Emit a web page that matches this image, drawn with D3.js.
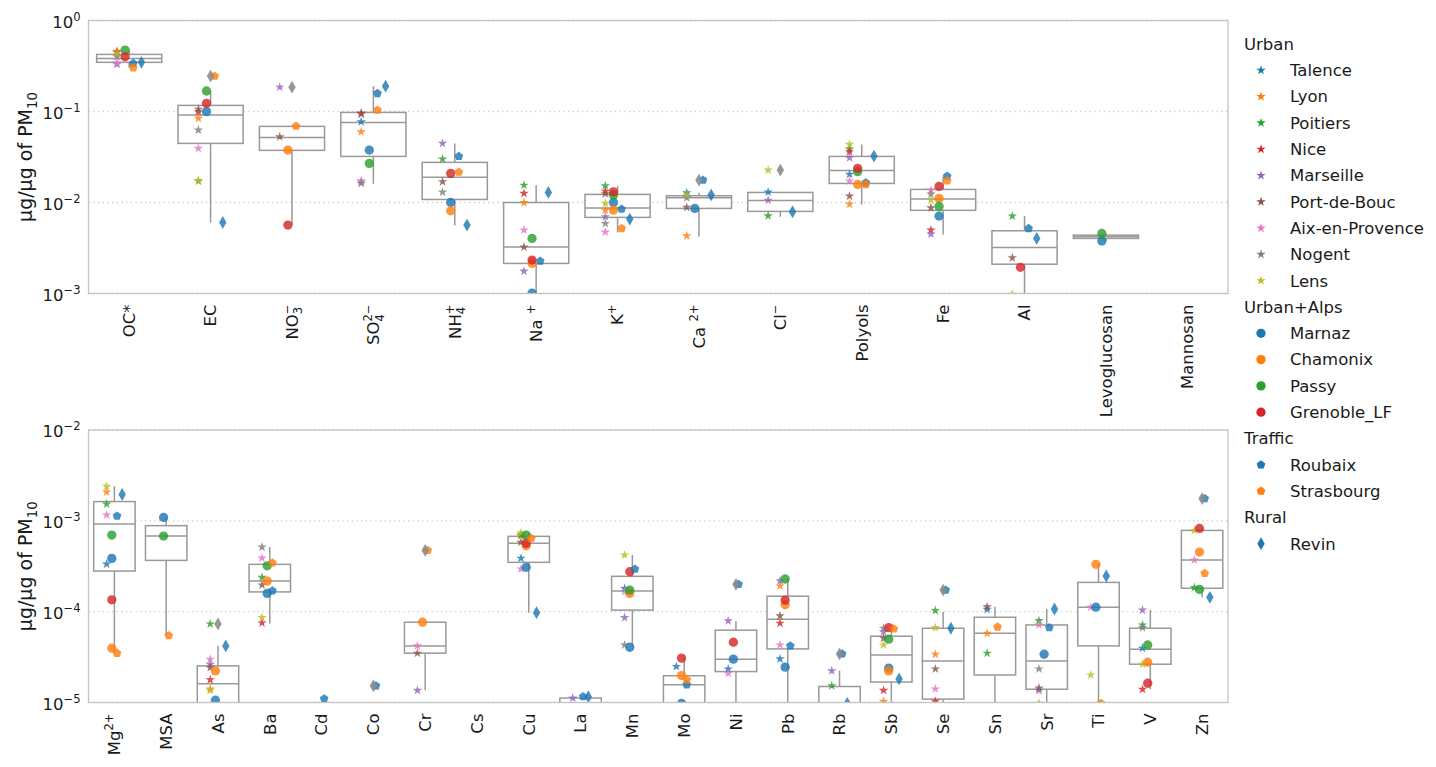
<!DOCTYPE html>
<html>
<head>
<meta charset="utf-8">
<script src="https://cdn.jsdelivr.net/npm/d3@7"></script>
<style>
  body { margin: 0; background: #fff; }
  text { font-family: "DejaVu Sans", sans-serif; fill: #1a1a1a; }
</style>
</head>
<body>
<svg id="chart" width="1436" height="767"></svg>
<script>
// ---- categories (tick labels, _ = subscript, ^ = superscript) ----
const majorSpecies = ['OC*', 'EC', 'NO_3^-', 'SO_4^{2-}', 'NH_4^+', 'Na ^+', 'K^+', 'Ca ^{2+}', 'Cl^-',
  'Polyols', 'Fe', 'Al', 'Levoglucosan', 'Mannosan'];
const traceSpecies = ['Mg^{2+}', 'MSA', 'As', 'Ba', 'Cd', 'Co', 'Cr', 'Cs', 'Cu', 'La', 'Mn', 'Mo', 'Ni',
  'Pb', 'Rb', 'Sb', 'Se', 'Sn', 'Sr', 'Ti', 'V', 'Zn'];

// ---- station groups ----
const groupNames = ['Urban', 'Urban+Alps', 'Traffic', 'Rural'];
const urbanSites = ['Talence', 'Lyon', 'Poitiers', 'Nice', 'Marseille', 'Port-de-Bouc', 'Aix-en-Provence', 'Nogent', 'Lens'];
const alpsSites = ['Marnaz', 'Chamonix', 'Passy', 'Grenoble_LF'];
const trafficSites = ['Roubaix', 'Strasbourg'];
const ruralSites = ['Revin'];

// ---- station values, µg/µg of PM10 (major species) ----
const major_Talence = [null, null, null, 0.077, null, null, null, 0.0128, 0.0130, 0.0204, null, null, null, null];
const major_Lyon = [0.46, 0.084, null, 0.0598, null, 0.0100, 0.00825, 0.0043, null, 0.0096, null, null, null, null];
const major_Poitiers = [null, 0.0172, null, null, 0.030, 0.0155, 0.0153, null, 0.00714, 0.0386, null, 0.0071, null, null];
const major_Nice = [0.45, 0.099, null, 0.0936, null, 0.0126, 0.0133, null, null, 0.0361, 0.00497, null, null, null];
const major_Marseille = [0.33, null, 0.185, 0.0168, 0.0446, 0.00176, 0.00697, null, 0.0106, 0.031, 0.0045, null, null, null];
const major_PortDeBouc = [null, 0.106, 0.0527, 0.096, 0.0169, 0.00324, 0.0125, 0.00883, null, 0.01175, 0.00874, 0.00247, null, null];
const major_Aix = [0.34, 0.0393, null, 0.0173, null, 0.00498, 0.00473, null, null, 0.0172, 0.01369, null, null, null];
const major_Nogent = [0.40, 0.0625, null, 0.0162, 0.0130, null, 0.00589, 0.01127, null, null, 0.01237, null, null, null];
const major_Lens = [0.44, 0.0174, null, null, null, null, 0.0098, 0.0121, 0.0227, 0.0435, 0.01063, 0.00098, null, null];
const major_Marnaz = [null, 0.100, null, 0.0377, 0.0100, 0.00101, 0.0100, 0.00861, null, null, 0.0071, null, 0.00377, null];
const major_Chamonix = [null, null, 0.0377, null, 0.0081, 0.00214, 0.00825, null, null, 0.0158, 0.0111, null, null, null];
const major_Passy = [0.473, 0.168, null, 0.0269, null, 0.00403, 0.01206, null, null, 0.0218, 0.00906, null, 0.00457, null];
const major_Grenoble = [0.399, 0.123, 0.00565, null, 0.0209, 0.00233, 0.0131, null, null, 0.0237, 0.01503, 0.00194, null, null];
const major_Roubaix = [0.338, null, null, 0.158, 0.0321, 0.00227, 0.00846, 0.0176, null, 0.0165, 0.0195, 0.00519, null, null];
const major_Strasbourg = [0.302, 0.245, 0.069, 0.1036, 0.0216, null, 0.00519, null, null, 0.0158, 0.0173, null, null, null];
const major_Revin = [0.347, 0.00604, null, 0.190, 0.00565, 0.0129, 0.00657, 0.0121, 0.0079, 0.0324, null, 0.00403, null, null];

// ---- station values (trace species) ----
const trace_Talence = [0.000334, null, null, null, null, null, null, null, 0.000387, null, 0.00018, 0.0000249, 0.0000234, 0.0000302, null, null, null, 0.000106, null, null, 0.0000396, null];
const trace_Lyon = [0.00208, null, 0.0000141, null, null, null, null, null, 0.00068, null, null, null, null, 0.000192, null, 0.0000103, 0.000034, 0.0000579, null, null, null, null];
const trace_Poitiers = [0.00153, null, 0.0000733, 0.000239, null, null, null, null, 0.0007, null, null, null, null, null, 0.0000153, null, 0.000103, 0.0000349, 0.0000796, null, 0.0000714, 0.000184];
const trace_Nice = [null, null, 0.0000178, 0.0000751, null, null, null, null, null, null, null, null, null, 0.0000746, null, 0.0000136, 0.0000103, null, null, null, 0.000014, null];
const trace_Marseille = [null, null, 0.0000263, null, null, null, 0.0000136, null, null, 0.0000112, 0.0000859, null, 0.0000791, 0.000219, 0.0000223, 0.00006, null, null, 0.0000136, null, 0.000104, null];
const trace_PortDeBouc = [null, null, 0.0000243, 0.000197, null, null, 0.0000349, null, 0.00058, null, null, null, null, 0.0000898, null, 0.000051, 0.0000234, 0.000113, 0.0000144, null, null, null];
const trace_Aix = [0.00116, null, 0.0000299, 0.000389, null, null, 0.000042, null, 0.000295, null, 0.000166, null, 0.000021, 0.000043, null, null, 0.0000141, null, 0.0000714, 0.000112, null, 0.00037];
const trace_Nogent = [null, null, null, 0.000514, null, null, null, null, null, null, 0.000043, null, null, null, null, 0.0000657, null, null, 0.0000234, null, 0.0000667, null];
const trace_Lens = [0.0024, null, 0.0000136, 0.0000859, null, null, null, null, 0.000738, null, 0.00042, null, null, null, null, 0.000043, 0.0000667, null, 0.0000098, 0.0000201, 0.0000264, 0.000784];
const trace_Marnaz = [0.000386, 0.00109, 0.0000106, 0.000159, null, null, null, null, 0.000308, null, 0.0000406, 0.0000098, 0.00003, 0.0000245, null, 0.0000239, null, null, 0.000034, 0.000112, null, null];
const trace_Chamonix = [0.0000396, null, 0.0000223, 0.000217, null, null, 0.0000765, null, 0.000531, null, 0.000159, 0.0000198, null, 0.000119, null, 0.0000223, null, null, null, 0.000332, 0.0000278, 0.000453];
const trace_Passy = [0.000697, 0.00068, null, 0.00032, null, null, null, null, 0.000697, null, 0.000173, null, null, 0.000229, null, 0.0000498, null, null, null, null, 0.000043, 0.000176];
const trace_Grenoble = [0.000135, null, null, null, null, null, null, null, 0.000565, null, 0.000275, 0.0000308, 0.0000461, 0.000134, null, 0.0000667, null, null, null, null, 0.0000163, 0.000825];
const trace_Roubaix = [0.00113, null, null, 0.00017, 0.000011, 0.0000153, null, null, null, 0.0000116, 0.000294, 0.0000157, 0.0002, 0.000042, 0.0000343, null, 0.000173, null, 0.0000667, null, null, 0.00176];
const trace_Strasbourg = [0.0000349, 0.0000545, null, 0.000345, null, null, 0.000473, null, 0.000641, null, null, 0.0000178, null, null, null, 0.0000646, null, 0.0000679, null, 0.0000098, null, 0.000264];
const trace_Revin = [0.00195, null, 0.000042, null, null, null, null, null, 0.0000975, 0.0000116, null, null, null, null, 0.0000098, 0.0000182, 0.0000657, null, 0.000107, 0.000247, null, 0.000144];

// ---- box statistics: [low whisker, Q1, median, Q3, high whisker] ----
const majorBoxes = [
  [0.302, 0.347, 0.383, 0.424, 0.473],
  [0.00604, 0.0446, 0.0913, 0.1167, 0.168],
  [0.00565, 0.0374, 0.0519, 0.0686, 0.0686],
  [0.01605, 0.0321, 0.0759, 0.0977, 0.190],
  [0.00558, 0.0108, 0.0189, 0.0276, 0.0446],
  [0.00095, 0.00214, 0.00324, 0.0100, 0.0155],
  [0.00469, 0.00686, 0.00868, 0.01228, 0.01515],
  [0.0042, 0.00861, 0.0113, 0.01185, 0.0128],
  [0.00697, 0.00798, 0.01055, 0.0129, 0.0130],
  [0.00953, 0.0162, 0.0225, 0.0321, 0.0435],
  [0.00446, 0.0082, 0.0109, 0.01393, 0.0193],
  [0.0009, 0.0021, 0.00321, 0.00489, 0.0071],
  [0.00377, 0.00403, 0.0042, 0.00438, 0.00457],
  null
];
const majorFliers = [[], [0.245], [0.185], [], [], [], [], [0.0176], [0.0227], [], [], [], [], []];

const traceBoxes = [
  [0.0000349, 0.00028, 0.00092, 0.00163, 0.0024],
  [0.0000545, 0.000367, 0.00068, 0.000885, 0.00109],
  [0.000005, 0.0000085, 0.0000161, 0.0000253, 0.000042],
  [0.0000738, 0.000165, 0.000217, 0.000332, 0.000514],
  null,
  null,
  [0.0000136, 0.0000349, 0.000042, 0.0000765, 0.0000765],
  null,
  [0.0000975, 0.000349, 0.000565, 0.000675, 0.000738],
  [0.000004, 0.000005, 0.000007, 0.0000112, 0.0000112],
  [0.0000412, 0.000104, 0.000169, 0.000245, 0.00042],
  [0.000004, 0.000008, 0.0000157, 0.0000197, 0.0000308],
  [0.000005, 0.0000219, 0.00003, 0.0000625, 0.0000791],
  [0.000006, 0.0000389, 0.0000825, 0.000148, 0.000229],
  [0.000004, 0.000005, 0.000007, 0.000015, 0.0000223],
  [0.000006, 0.0000168, 0.0000334, 0.0000537, 0.0000684],
  [0.000006, 0.0000109, 0.0000287, 0.0000657, 0.0001],
  [0.000006, 0.0000201, 0.0000579, 0.0000868, 0.000113],
  [0.000008, 0.000014, 0.0000287, 0.0000714, 0.000107],
  [0.000006, 0.000042, 0.000112, 0.00021, 0.000332],
  [0.000014, 0.0000264, 0.0000386, 0.0000657, 0.000104],
  [0.000144, 0.000181, 0.00037, 0.000784, 0.000825]
];
const traceFliers = [[], [], [0.0000733], [], [], [0.0000153], [0.000473], [], [], [], [], [], [0.0002],
  [], [0.0000343], [], [0.000173], [], [], [], [], [0.00176]];

// ---- table of series built from the arrays above ----
const series = [
  ...urbanSites.map((n, i) => ({ name: n, group: 0, color: i })),
  ...alpsSites.map((n, i) => ({ name: n, group: 1, color: i })),
  ...trafficSites.map((n, i) => ({ name: n, group: 2, color: i })),
  ...ruralSites.map((n, i) => ({ name: n, group: 3, color: i }))
];
const majorRows = [major_Talence, major_Lyon, major_Poitiers, major_Nice, major_Marseille, major_PortDeBouc,
  major_Aix, major_Nogent, major_Lens, major_Marnaz, major_Chamonix, major_Passy, major_Grenoble,
  major_Roubaix, major_Strasbourg, major_Revin];
const traceRows = [trace_Talence, trace_Lyon, trace_Poitiers, trace_Nice, trace_Marseille, trace_PortDeBouc,
  trace_Aix, trace_Nogent, trace_Lens, trace_Marnaz, trace_Chamonix, trace_Passy, trace_Grenoble,
  trace_Roubaix, trace_Strasbourg, trace_Revin];
series.forEach((s, i) => { s.major = majorRows[i]; s.trace = traceRows[i]; });

// ---- markers ----
const pentagon = { draw(ctx, size) {
  const r = Math.sqrt(size);
  for (let k = 0; k < 5; k++) {
    const a = -Math.PI / 2 + k * 2 * Math.PI / 5;
    k ? ctx.lineTo(r * Math.cos(a), r * Math.sin(a)) : ctx.moveTo(r * Math.cos(a), r * Math.sin(a));
  }
  ctx.closePath();
}};
const thinDiamond = { draw(ctx, size) {
  const r = Math.sqrt(size);
  ctx.moveTo(0, -r); ctx.lineTo(0.58 * r, 0); ctx.lineTo(0, r); ctx.lineTo(-0.58 * r, 0); ctx.closePath();
}};
const groupSymbol = [
  d3.symbol().type(d3.symbolStar).size(28)(),
  d3.symbol().type(d3.symbolCircle).size(68)(),
  d3.symbol().type(pentagon).size(21)(),
  d3.symbol().type(thinDiamond).size(41)()
];
const groupOffset = [-0.15, -0.05, 0.05, 0.15];
const color = d3.schemeCategory10;
const boxColor = '#999999';

const svg = d3.select('#chart');
const defs = svg.append('defs');

// draw a label with _sub and ^sup parts into a <text>
function mathText(sel, str, size) {
  const parts = [];
  let i = 0;
  while (i < str.length) {
    const c = str[i];
    if (c === '_' || c === '^') {
      let t;
      if (str[i + 1] === '{') { const j = str.indexOf('}', i); t = str.slice(i + 2, j); i = j + 1; }
      else { t = str[i + 1]; i += 2; }
      parts.push({ t: t.replace('-', '\u2212'), m: c === '_' ? 'sub' : 'sup' });
    } else {
      let j = i;
      while (j < str.length && str[j] !== '_' && str[j] !== '^') j++;
      parts.push({ t: str.slice(i, j), m: 'n' });
      i = j;
    }
  }
  const small = size * 0.7;
  let cur = 0, prevSubW = 0;
  sel.text(null);
  parts.forEach(p => {
    const ts = sel.append('tspan').text(p.t);
    if (p.m === 'n') {
      ts.attr('dy', -cur); cur = 0; prevSubW = 0;
    } else if (p.m === 'sub') {
      const off = size * 0.28;
      ts.attr('dy', off - cur).attr('font-size', small); cur = off;
      prevSubW = p.t.length * small * 0.636;
    } else {
      const off = -size * 0.42;
      ts.attr('dy', off - cur).attr('font-size', small); cur = off;
      if (prevSubW) ts.attr('dx', -prevSubW);
      prevSubW = 0;
    }
  });
}

const left = 88.5, right = 1228;
const tickFont = 16.5;
const panels = [
  { cats: majorSpecies, key: 'major', boxes: majorBoxes, fliers: majorFliers, domain: [1e-3, 1], top: 20.5, bottom: 293.5 },
  { cats: traceSpecies, key: 'trace', boxes: traceBoxes, fliers: traceFliers, domain: [1e-5, 1e-2], top: 430, bottom: 702.5 }
];

panels.forEach((p, pi) => {
  const x = d3.scaleBand().domain(d3.range(p.cats.length)).range([left, right]);
  const y = d3.scaleLog().domain(p.domain).range([p.bottom, p.top]);
  const bw = x.bandwidth();
  const cx = i => x(i) + bw / 2;
  const decades = d3.range(Math.round(Math.log10(p.domain[0])), Math.round(Math.log10(p.domain[1])) + 1)
    .map(e => Math.pow(10, e));

  // grid
  svg.append('g').selectAll('line').data(decades).enter().append('line')
    .attr('x1', left).attr('x2', right).attr('y1', d => y(d)).attr('y2', d => y(d))
    .attr('stroke', '#cccccc').attr('stroke-width', 1.3).attr('stroke-dasharray', '1.3,3.4');

  defs.append('clipPath').attr('id', 'clip' + pi).append('rect')
    .attr('x', left).attr('y', p.top).attr('width', right - left).attr('height', p.bottom - p.top);
  const plot = svg.append('g').attr('clip-path', `url(#clip${pi})`);

  // boxes
  const boxW = bw * 0.8;
  p.boxes.forEach((b, i) => {
    if (!b) return;
    const g = plot.append('g').attr('stroke', boxColor).attr('stroke-width', 1.5).attr('fill', 'none');
    g.append('line').attr('x1', cx(i)).attr('x2', cx(i)).attr('y1', y(b[3])).attr('y2', y(b[4]));
    g.append('line').attr('x1', cx(i)).attr('x2', cx(i)).attr('y1', y(b[1])).attr('y2', y(b[0]));
    g.append('rect').attr('x', cx(i) - boxW / 2).attr('width', boxW)
      .attr('y', y(b[3])).attr('height', Math.max(0, y(b[1]) - y(b[3]))).attr('fill', '#fff');
    g.append('line').attr('x1', cx(i) - boxW / 2).attr('x2', cx(i) + boxW / 2)
      .attr('y1', y(b[2])).attr('y2', y(b[2]));
  });

  // station points
  series.forEach(s => {
    const pts = s[p.key].map((v, i) => ({ v, i })).filter(d => d.v != null);
    plot.append('g').selectAll('path').data(pts).enter().append('path')
      .attr('d', groupSymbol[s.group])
      .attr('transform', d => `translate(${cx(d.i) + groupOffset[s.group] * bw},${y(d.v)})`)
      .attr('fill', color[s.color]).attr('fill-opacity', 0.82);
  });

  // fliers
  const fl = [];
  p.fliers.forEach((arr, i) => arr.forEach(v => fl.push({ i, v })));
  plot.append('g').selectAll('path').data(fl).enter().append('path')
    .attr('d', groupSymbol[3])
    .attr('transform', d => `translate(${cx(d.i)},${y(d.v)})`)
    .attr('fill', '#8c8c8c').attr('fill-opacity', 0.9);

  // frame
  svg.append('rect').attr('x', left).attr('y', p.top).attr('width', right - left).attr('height', p.bottom - p.top)
    .attr('fill', 'none').attr('stroke', '#c4c4c4').attr('stroke-width', 1.3);

  // y axis
  const ya = svg.append('g').attr('transform', `translate(${left},0)`)
    .call(d3.axisLeft(y).tickValues(decades).tickSize(0).tickPadding(8)
      .tickFormat(d => `10^{${Math.round(Math.log10(d))}}`));
  ya.select('.domain').remove();
  ya.selectAll('.tick text').attr('font-size', tickFont).attr('font-family', '"DejaVu Sans", sans-serif')
    .attr('fill', '#1a1a1a').attr('dy', null).attr('y', 6.5)
    .each(function(d) { mathText(d3.select(this), `10^{${Math.round(Math.log10(d))}}`, tickFont); });

  // x axis
  const xa = svg.append('g').attr('transform', `translate(0,${p.bottom})`)
    .call(d3.axisBottom(x).tickSize(0).tickFormat(i => p.cats[i]));
  xa.select('.domain').remove();
  xa.selectAll('.tick text').attr('font-size', tickFont).attr('font-family', '"DejaVu Sans", sans-serif')
    .attr('fill', '#1a1a1a').attr('text-anchor', 'end')
    .attr('x', 0).attr('y', 5.8).attr('dy', null)
    .attr('transform', 'translate(0,11) rotate(-90)')
    .each(function(i) { mathText(d3.select(this), p.cats[i], tickFont); });

  // y label
  const yl = svg.append('text').attr('text-anchor', 'middle').attr('font-size', 19)
    .attr('transform', `translate(32,${(p.top + p.bottom) / 2}) rotate(-90)`);
  mathText(yl, '\u00b5g/\u00b5g of PM_{10}', 19);
});

// ---- legend ----
const legendRows = [];
[urbanSites, alpsSites, trafficSites, ruralSites].forEach((sites, gi) => {
  legendRows.push({ title: groupNames[gi] });
  sites.forEach((n, k) => legendRows.push({ name: n, group: gi, color: k }));
});
const lg = svg.append('g');
legendRows.forEach((r, k) => {
  const yy = 44 + k * 26.3;
  if (r.title) {
    lg.append('text').attr('x', 1244).attr('y', yy + 5.8).attr('font-size', 16.5).text(r.title);
  } else {
    lg.append('path').attr('d', groupSymbol[r.group]).attr('transform', `translate(1261,${yy})`)
      .attr('fill', color[r.color]);
    lg.append('text').attr('x', 1290).attr('y', yy + 5.8).attr('font-size', 16.5).text(r.name);
  }
});
</script>
</body>
</html>
